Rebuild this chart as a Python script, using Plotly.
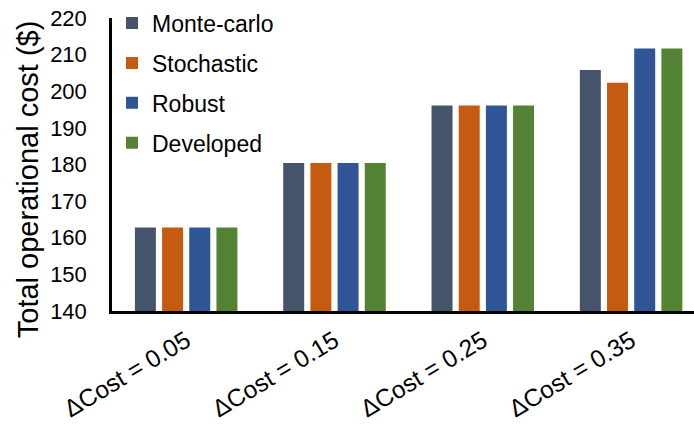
import plotly.graph_objects as go

# Cost-increment scenarios on the x axis
categories = ["ΔCost = 0.05", "ΔCost = 0.15", "ΔCost = 0.25", "ΔCost = 0.35"]

# Total operational cost ($) per method
monte_carlo = [162.8, 180.4, 196.1, 205.8]
stochastic = [162.8, 180.4, 196.1, 202.3]
robust = [162.8, 180.4, 196.1, 211.7]
developed = [162.8, 180.4, 196.1, 211.7]

series_names = ["Monte-carlo", "Stochastic", "Robust", "Developed"]
series_values = [monte_carlo, stochastic, robust, developed]
series_colors = ["#44546A", "#C55A11", "#2F5597", "#548235"]

y_ticks = [140, 150, 160, 170, 180, 190, 200, 210, 220]

FONT = "Liberation Sans, Arial, sans-serif"

fig = go.Figure()
for name, vals, col in zip(series_names, series_values, series_colors):
    fig.add_trace(go.Bar(
        x=categories, y=vals, name=name, legendgroup=name,
        marker=dict(color=col, line=dict(width=0)),
    ))

fig.update_layout(
    width=694, height=427,
    margin=dict(l=112, r=0, t=18, b=116),
    paper_bgcolor="white", plot_bgcolor="white",
    font=dict(family=FONT, color="black", size=22),
    barmode="group", bargap=0.267, bargroupgap=0.228,
    showlegend=True,
    legend=dict(
        x=0.0, y=1.056, xanchor="left", yanchor="top",
        font=dict(size=23, family=FONT, color="black"),
        bgcolor="rgba(0,0,0,0)", tracegroupgap=7,
        itemsizing="constant",
    ),
    xaxis=dict(
        range=[-0.5, 3.424], showline=True, linecolor="black", linewidth=3,
        ticks="", tickangle=-31, showgrid=False, zeroline=False,
        tickfont=dict(size=24.5, family=FONT, color="black"),
        ticklabelstandoff=3,
    ),
    yaxis=dict(
        range=[140, 220], tickvals=y_ticks, showline=True, linecolor="black",
        linewidth=2.5, ticks="", showgrid=False, zeroline=False,
        tickfont=dict(size=22, family=FONT, color="black"),
        ticklabelstandoff=18,
    ),
    annotations=[dict(
        text="Total operational cost ($)", textangle=-90,
        xref="paper", yref="paper", x=-0.143, y=0.449,
        xanchor="center", yanchor="middle", showarrow=False,
        font=dict(size=29, family=FONT, color="black"),
    )],
)

fig.write_html("out.html")
